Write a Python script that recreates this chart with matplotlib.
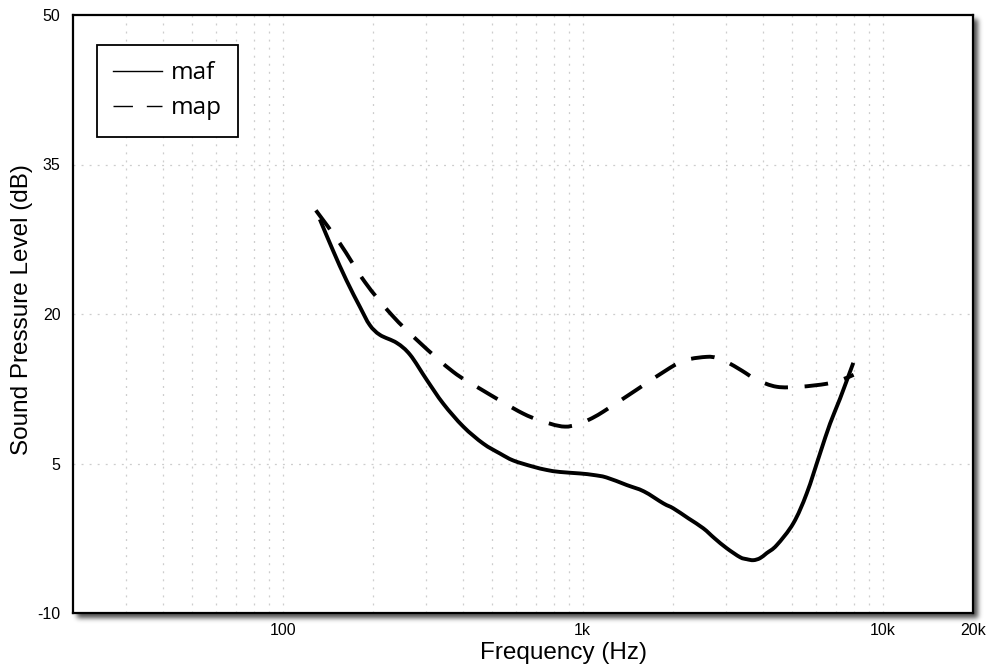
import numpy as np
import matplotlib
matplotlib.use("Agg")
import matplotlib.pyplot as plt
from matplotlib.lines import Line2D
from matplotlib.path import Path
from matplotlib.patches import PathPatch

# Threshold curves: minimum audible field (maf) and minimum audible pressure (map)
maf_freq = [133, 147, 163, 181, 195, 211, 240, 266, 302, 343, 400, 466, 530, 587,
            680, 759, 840, 980, 1085, 1200, 1402, 1600, 1857, 2005, 2250, 2523,
            2750, 3020, 3346, 3521, 3706, 3900, 4103, 4432, 5036, 5582,
            6181, 6676, 7206, 7981]
maf_db = [29.5, 26.4, 23.4, 20.7, 18.9, 17.9, 17.1, 15.9, 13.4, 11.0, 8.7, 7.0, 6.0, 5.3,
          4.7, 4.35, 4.15, 4.0, 3.85, 3.6, 2.84, 2.2, 1.0, 0.5, -0.5, -1.5,
          -2.5, -3.5, -4.4, -4.6, -4.7, -4.5, -4.0, -3.2, -1.0, 2.0,
          6.0, 9.0, 11.5, 15.1]

map_freq = [129, 155, 188, 231, 287, 370, 455, 634, 778, 873, 955, 1050, 1171,
            1513, 1955, 2221, 2589, 2800, 3020, 3400, 3802, 4432, 5302, 6503,
            7300, 8000]
map_db = [30.4, 27.1, 23.2, 19.9, 17.1, 14.2, 12.5, 10.0, 9.0, 8.7, 8.9, 9.4, 10.2,
          12.4, 14.6, 15.4, 15.7, 15.6, 15.2, 14.3, 13.4, 12.7, 12.7, 13.0,
          13.4, 13.9]

x_ticks = [100, 1000, 10000, 20000]
x_tick_labels = ["100", "1k", "10k", "20k"]
y_ticks = [-10, 5, 20, 35, 50]

plt.rcParams["lines.scale_dashes"] = False


def smooth_path(freq, level):
    """Catmull-Rom curve through the points, built in log-frequency space."""
    x = np.log10(np.asarray(freq, float))
    y = np.asarray(level, float)
    pts = np.column_stack([x, y])
    ext = np.vstack([2 * pts[0] - pts[1], pts, 2 * pts[-1] - pts[-2]])
    verts = [pts[0]]
    codes = [Path.MOVETO]
    for i in range(1, len(ext) - 2):
        p0, p1, p2, p3 = ext[i - 1], ext[i], ext[i + 1], ext[i + 2]
        c1 = p1 + (p2 - p0) / 6.0
        c2 = p2 - (p3 - p1) / 6.0
        verts += [c1, c2, p2]
        codes += [Path.CURVE4] * 3
    verts = np.array(verts)
    verts[:, 0] = 10 ** verts[:, 0]
    return Path(verts, codes)


W, H = 992, 666
fig = plt.figure(figsize=(W / 100, H / 100), dpi=100)
fig.patch.set_facecolor("white")

# plot area in pixel units
L, R, T, B = 73, 973, 15, 613

# soft drop shadow under the plot frame
bg = fig.add_axes([0, 0, 1, 1], zorder=0)
bg.set_xlim(0, W)
bg.set_ylim(H, 0)
bg.axis("off")
mask = np.zeros((H, W))
dx, dy = 4, 4
mask[T + dy:B + dy + 1, L + dx:R + dx + 1] = 1.0
sig = 2.5
k = np.arange(-8, 9)
kern = np.exp(-k ** 2 / (2 * sig ** 2))
kern /= kern.sum()
mask = np.apply_along_axis(lambda r: np.convolve(r, kern, mode="same"), 1, mask)
mask = np.apply_along_axis(lambda c: np.convolve(c, kern, mode="same"), 0, mask)
rgba = np.zeros((H, W, 4))
rgba[..., 3] = mask * 0.7
bg.imshow(rgba, extent=(0, W, H, 0), interpolation="bilinear")

ax = fig.add_axes([L / W, (H - B) / H, (R - L) / W, (B - T) / H], zorder=1)
ax.set_facecolor("white")
ax.set_xscale("log")
ax.set_xlim(20, 20000)
ax.set_ylim(-10, 50)

ax.add_patch(PathPatch(smooth_path(maf_freq, maf_db), fill=False, edgecolor="black",
                       lw=2.8, joinstyle="round", capstyle="butt", zorder=3))
ax.add_patch(PathPatch(smooth_path(map_freq, map_db), fill=False, edgecolor="black",
                       lw=2.8, linestyle=(0, (17, 12)), capstyle="butt", zorder=3))

# grid
grid_kw = dict(color="#cdcdcd", lw=0.9, dashes=(1.4, 4.4), zorder=1)
for dec in (10, 100, 1000):
    for m in range(2 if dec > 10 else 3, 10):
        ax.axvline(dec * m, **grid_kw)
    ax.axvline(dec * 10, **grid_kw)
for yv in (5, 20, 35):
    ax.axhline(yv, **grid_kw)

ax.set_xticks(x_ticks)
ax.set_xticklabels(x_tick_labels)
ax.xaxis.set_minor_locator(matplotlib.ticker.NullLocator())
ax.set_yticks(y_ticks)
ax.set_yticklabels([str(v) for v in y_ticks])
ax.tick_params(axis="x", length=0, pad=7, labelsize=11.5)
ax.tick_params(axis="y", length=0, pad=9, labelsize=11.5)
for lab in ax.get_xticklabels() + ax.get_yticklabels():
    lab.set_fontfamily("Liberation Sans")

for s in ax.spines.values():
    s.set_linewidth(1.6)
    s.set_color("black")

fig.text(563 / W, 1 - 659 / H, "Frequency (Hz)", ha="center", va="baseline",
         fontsize=17.5, family="Liberation Sans")
fig.text(22 / W, 1 - 310 / H, "Sound Pressure Level (dB)", ha="center", va="center",
         rotation=90, fontsize=17.5, family="Liberation Sans")

handles = [Line2D([], [], color="black", lw=1.0),
           Line2D([], [], color="black", lw=1.0, dashes=(14, 10))]
leg = ax.legend(handles, ["maf", "map"], loc="upper left",
                bbox_to_anchor=((97 - L) / (R - L), (B - 45) / (B - T)),
                borderaxespad=0, fancybox=False, framealpha=1,
                edgecolor="black", handlelength=2.0, handletextpad=0.38,
                borderpad=0.66, labelspacing=0.47,
                prop={"family": "Open Sans", "size": 17.5})
leg.get_frame().set_linewidth(1.3)

fig.savefig("out.png", dpi=100, facecolor="white")
